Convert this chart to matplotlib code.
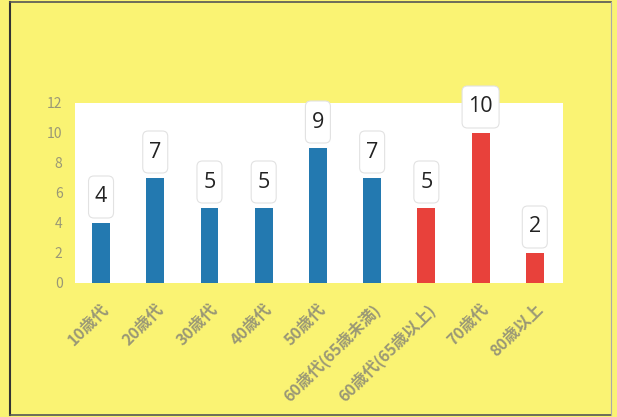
import matplotlib.pyplot as plt
from matplotlib.patches import FancyBboxPatch
from matplotlib.lines import Line2D

plt.rcParams['font.family'] = ['Noto Sans CJK JP', 'DejaVu Sans']

categories = ['10歳代', '20歳代', '30歳代', '40歳代', '50歳代',
              '60歳代(65歳未満)', '60歳代(65歳以上)', '70歳代', '80歳以上']
counts = [4, 7, 5, 5, 9, 7, 5, 10, 2]
bar_colors = ['#2379b0'] * 6 + ['#e8413b'] * 3

yellow = '#faf373'
grey = '#9a9876'

fig = plt.figure(figsize=(6.17, 4.17), dpi=100, facecolor=yellow)
ax = fig.add_axes([75 / 617, 1 - 283 / 417, 488 / 617, 180 / 417])
ax.set_facecolor('white')

x = range(len(categories))
ax.bar(x, counts, width=0.33, color=bar_colors)

ax.set_xlim(-0.48, 8.52)
ax.set_ylim(0, 12)
ax.set_yticks(range(0, 13, 2))
for s in ax.spines.values():
    s.set_visible(False)
ax.tick_params(axis='both', length=0, colors=grey)
ax.tick_params(axis='y', pad=9, labelsize=10)
ax.set_xticks(list(x))
ax.set_xticklabels(categories, rotation=45, ha='right', rotation_mode='anchor',
                   fontsize=11.5, fontweight='bold')
ax.tick_params(axis='x', pad=13)

# value labels in tall white rounded boxes above each bar
px_x = 488 / 9.0   # pixels per x unit
px_y = 180 / 12.0  # pixels per y unit
for i, v in enumerate(counts):
    w = (25 if v < 10 else 37) / px_x
    h = 42 / px_y
    bottom = v + 5 / px_y
    box = FancyBboxPatch((i - w / 2, bottom), w, h,
                         boxstyle='round,pad=0,rounding_size=0.1',
                         mutation_aspect=px_x / px_y,
                         fc='white', ec='#e2e2e2', lw=0.8, clip_on=False)
    ax.add_patch(box)
    ax.text(i, bottom + h / 2, str(v), ha='center', va='center', fontsize=15.5,
            color='#222222', family=['Open Sans', 'DejaVu Sans'], clip_on=False)

# frame around the figure
fig.add_artist(Line2D([10 / 617, 10 / 617], [0.005, 0.995], color='#333333', lw=1.5))
fig.add_artist(Line2D([10 / 617, 0.99], [0.995, 0.995], color='#555555', lw=1.2))
fig.add_artist(Line2D([10 / 617, 0.99], [0.005, 0.005], color='#555555', lw=1.2))
fig.add_artist(Line2D([0.99, 0.99], [0.005, 0.995], color='#aaaaaa', lw=0.8))

fig.savefig('out.png', dpi=100, facecolor=yellow)
